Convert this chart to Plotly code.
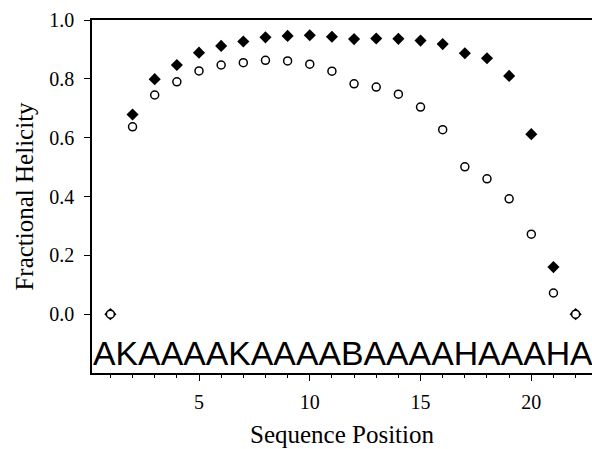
import plotly.graph_objects as go

positions = list(range(1, 23))
open_circles = [0.0, 0.637, 0.745, 0.790, 0.827, 0.847, 0.855, 0.863, 0.861, 0.850, 0.826,
                0.783, 0.772, 0.748, 0.704, 0.627, 0.501, 0.460, 0.392, 0.272, 0.072, 0.0]
filled_diamonds = [0.0, 0.679, 0.799, 0.847, 0.889, 0.912, 0.927, 0.941, 0.946, 0.948, 0.943,
                   0.935, 0.937, 0.936, 0.930, 0.918, 0.887, 0.870, 0.810, 0.612, 0.160, 0.0]
sequence = "AKAAAAKAAAABAAAAHAAAHA"
x_ticks = [5, 10, 15, 20]
y_ticks = [0.0, 0.2, 0.4, 0.6, 0.8, 1.0]
y_tick_text = ["0.0", "0.2", "0.4", "0.6", "0.8", "1.0"]

fig = go.Figure()
fig.add_trace(go.Scatter(
    x=positions, y=filled_diamonds, mode="markers",
    marker=dict(symbol="diamond", size=9.3, color="black", line=dict(width=0)),
    showlegend=False, cliponaxis=False))
fig.add_trace(go.Scatter(
    x=positions, y=open_circles, mode="markers",
    marker=dict(symbol="circle", size=8, color="white", line=dict(color="black", width=1.5)),
    showlegend=False, cliponaxis=False))

fig.add_annotation(
    text=sequence, xref="paper", yref="y", x=0.0, y=-0.132,
    xanchor="left", yanchor="middle", showarrow=False,
    font=dict(family="Liberation Sans", size=33.8, color="black"),
    xshift=-1)

serif = "Liberation Serif, Times New Roman, serif"
fig.update_layout(
    width=592, height=449,
    margin=dict(l=92, r=0, t=20, b=76),
    paper_bgcolor="white", plot_bgcolor="white",
    font=dict(family=serif, color="black", size=20),
)
fig.update_xaxes(
    range=[0.17, 22.74], tickmode="array", tickvals=x_ticks,
    ticks="outside", ticklen=6, tickwidth=1, tickcolor="black",
    minor=dict(dtick=1, tick0=0, ticks="outside", ticklen=3, tickwidth=1, tickcolor="black"),
    showline=True, linecolor="black", linewidth=1.5, mirror=True,
    showgrid=False, zeroline=False,
    tickfont=dict(family=serif, size=20, color="black"),
    ticklabelstandoff=4,
    title=dict(text="Sequence Position", font=dict(family=serif, size=25), standoff=14),
)
fig.update_yaxes(
    range=[-0.2, 1.0], tickmode="array", tickvals=y_ticks, ticktext=y_tick_text,
    ticks="outside", ticklen=6, tickwidth=1, tickcolor="black",
    showline=True, linecolor="black", linewidth=1.5, mirror=False,
    showgrid=False, zeroline=False,
    tickfont=dict(family=serif, size=20, color="black"),
    ticklabelstandoff=6,
    title=dict(text="Fractional Helicity", font=dict(family=serif, size=25), standoff=9),
)

fig.write_html("out.html")
